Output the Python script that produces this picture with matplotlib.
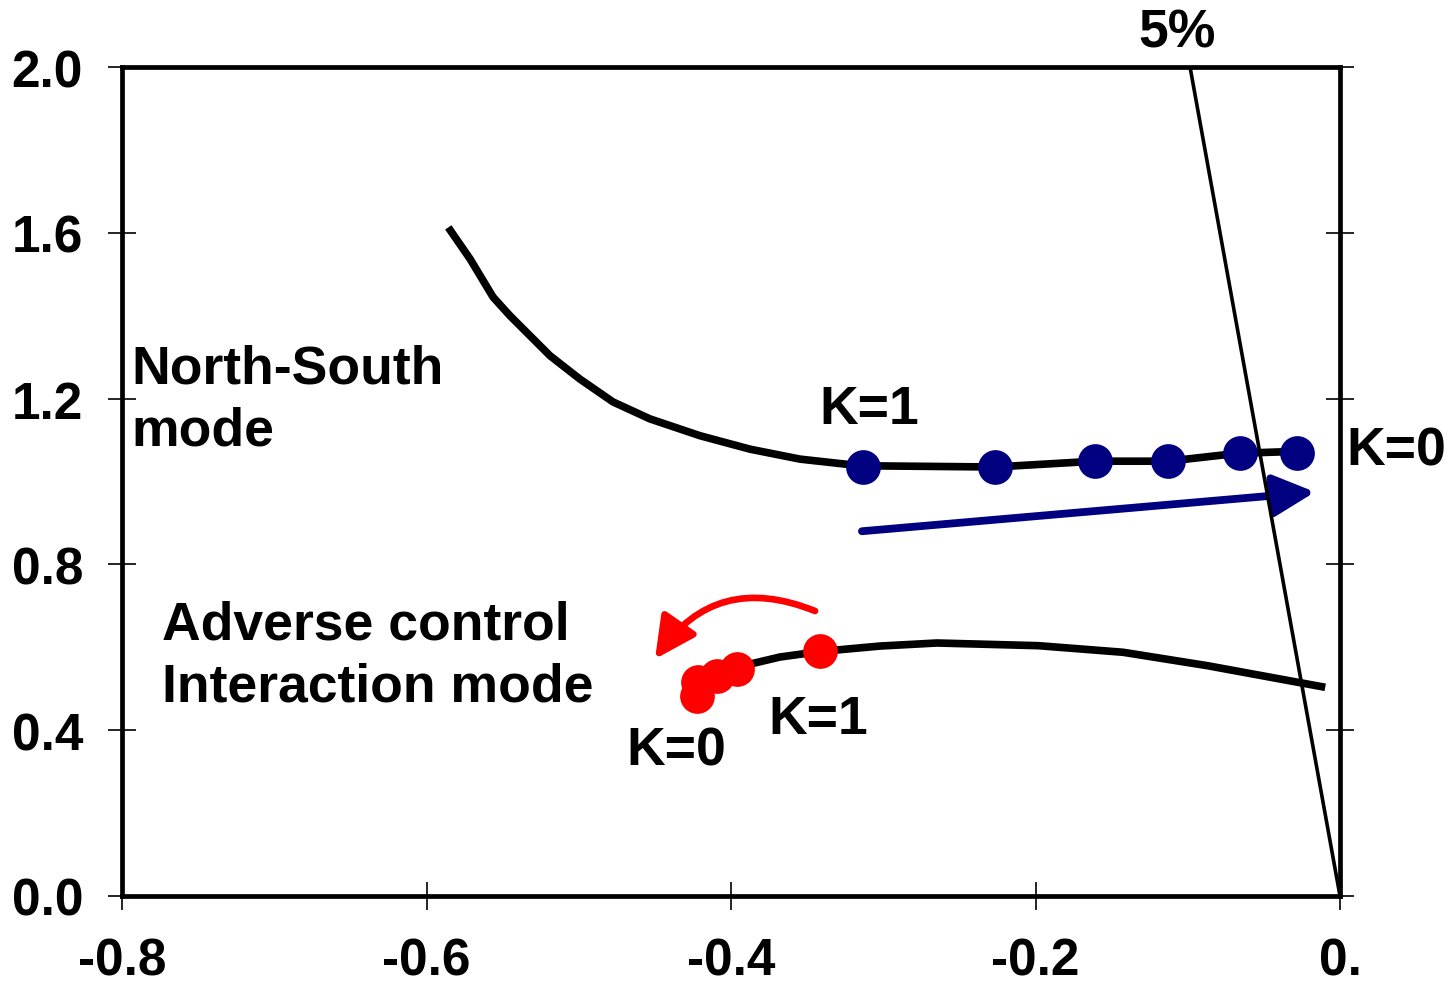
import matplotlib
matplotlib.use("Agg")
import matplotlib.pyplot as plt
from matplotlib.patches import FancyArrowPatch

plt.rcParams['font.family'] = ['Liberation Sans', 'DejaVu Sans']
plt.rcParams['font.weight'] = 'bold'

# ---------------- data ----------------
x_ticks = [-0.8, -0.6, -0.4, -0.2, 0.0]
x_tick_labels = ["-0.8", "-0.6", "-0.4", "-0.2", "0."]
y_ticks = [0.0, 0.4, 0.8, 1.2, 1.6, 2.0]
y_tick_labels = ["0.0", "0.4", "0.8", "1.2", "1.6", "2.0"]

# North-South mode locus (black curve)
ns_curve_x = [-0.5857, -0.5714, -0.5563, -0.5452, -0.5189, -0.4992, -0.4775, -0.4532,
              -0.4204, -0.3875, -0.3547, -0.3153, -0.2266, -0.1609, -0.1130, -0.0670, -0.0210]
ns_curve_y = [1.613, 1.537, 1.445, 1.400, 1.3035, 1.247, 1.192, 1.151,
              1.1105, 1.078, 1.054, 1.038, 1.035, 1.049, 1.049, 1.068, 1.0736]
# North-South mode eigenvalues (K=1 ... K=0)
ns_pts_x = [-0.3135, -0.2266, -0.1609, -0.1130, -0.0657, -0.0282]
ns_pts_y = [1.034, 1.034, 1.049, 1.049, 1.068, 1.068]

# Adverse control interaction mode locus (black curve)
ac_curve_x = [-0.3961, -0.3678, -0.3411, -0.3021, -0.2648, -0.1981, -0.1425, -0.0870, -0.0097]
ac_curve_y = [0.552, 0.5766, 0.590, 0.603, 0.6104, 0.6039, 0.588, 0.5556, 0.5035]
# Adverse control interaction mode eigenvalues (K=1 ... K=0)
ac_pts_x = [-0.3415, -0.3960, -0.4090, -0.4217, -0.4223]
ac_pts_y = [0.591, 0.548, 0.531, 0.516, 0.4825]

# 5 % damping line
damp_x = [-0.0985, 0.0]
damp_y = [2.0, 0.0]

# arrows (start, end)
blue_arrow = [(-0.3140, 0.880), (-0.0164, 0.9747)]
red_arrow = [(-0.3448, 0.6876), (-0.4499, 0.5718)]

FS_TICK = 37
FS = 38.5
NAVY = '#000080'
RED = '#FF0000'

# ---------------- figure ----------------
W, H = 1452, 987
fig = plt.figure(figsize=(W / 100, H / 100), dpi=100)
ax = fig.add_axes([122 / W, 90 / H, 1218 / W, 829 / H])

ax.set_xlim(-0.8, 0.0)
ax.set_ylim(0.0, 2.0)

ax.plot(ns_curve_x, ns_curve_y, color='black', lw=5.5, solid_capstyle='butt',
        solid_joinstyle='round', zorder=2)
ax.plot(ac_curve_x, ac_curve_y, color='black', lw=5.5, solid_capstyle='butt',
        solid_joinstyle='round', zorder=2)
ax.plot(ns_pts_x, ns_pts_y, 'o', color=NAVY, ms=25, mec='none', zorder=3)
ax.plot(ac_pts_x, ac_pts_y, 'o', color=RED, ms=25, mec='none', zorder=3)

ax.add_patch(FancyArrowPatch(blue_arrow[0], blue_arrow[1],
                             arrowstyle='-|>,head_length=1.25,head_width=0.63',
                             mutation_scale=20, color=NAVY, lw=5.6,
                             shrinkA=0, shrinkB=0, zorder=3))
ax.add_patch(FancyArrowPatch(red_arrow[0], red_arrow[1],
                             connectionstyle='arc3,rad=0.4',
                             arrowstyle='-|>,head_length=1.25,head_width=0.63',
                             mutation_scale=20, color=RED, lw=4.8,
                             shrinkA=0, shrinkB=0, zorder=3))

ax.plot(damp_x, damp_y, color='black', lw=2.6, zorder=4)

# axes styling
for s in ax.spines.values():
    s.set_linewidth(3.4)
ax.set_xticks(x_ticks)
ax.set_xticklabels(x_tick_labels)
ax.set_yticks(y_ticks)
ax.set_yticklabels(y_tick_labels)
ax.tick_params(axis='both', direction='inout', length=20, width=1.2, labelsize=FS_TICK)
ax.tick_params(axis='y', left=True, right=True, labelright=False, pad=18)
ax.tick_params(axis='x', top=False, bottom=True, pad=19)
for lab in ax.get_xticklabels() + ax.get_yticklabels():
    lab.set_fontweight('bold')


def ftext(px, py, s, ha='left', va='center'):
    fig.text(px / W, 1 - py / H, s, fontsize=FS, fontweight='bold',
             ha=ha, va=va, color='black')


ftext(1177, 33, "5%", ha='center')
ftext(131, 370, "North-South")
ftext(131, 432, "mode")
ftext(162, 625, "Adverse control")
ftext(162, 688, "Interaction mode")
ftext(869, 410, "K=1", ha='center')
ftext(1396, 452, "K=0", ha='center')
ftext(676, 752, "K=0", ha='center')
ftext(818, 720, "K=1", ha='center')

fig.savefig('out.png', dpi=100)
